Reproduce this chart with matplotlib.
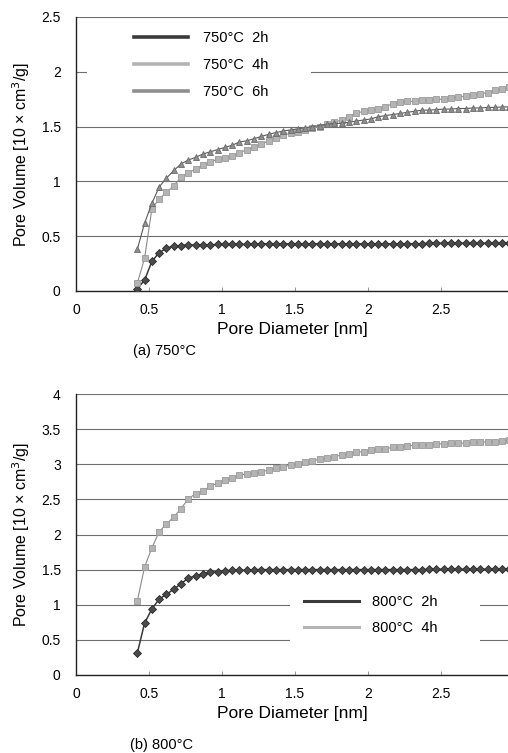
import matplotlib
matplotlib.use("Agg")
import matplotlib.pyplot as plt
from matplotlib.lines import Line2D
from matplotlib.patches import Rectangle

plt.rcParams['font.family'] = ['Liberation Sans', 'DejaVu Sans']

# Pore diameter grid [nm]
diameter = [0.42, 0.47, 0.52, 0.57, 0.62, 0.67, 0.72, 0.77, 0.82, 0.87,
            0.92, 0.97, 1.02, 1.07, 1.12, 1.17, 1.22, 1.27, 1.32, 1.37,
            1.42, 1.47, 1.52, 1.57, 1.62, 1.67, 1.72, 1.77, 1.82, 1.87,
            1.92, 1.97, 2.02, 2.07, 2.12, 2.17, 2.22, 2.27, 2.32, 2.37,
            2.42, 2.47, 2.52, 2.57, 2.62, 2.67, 2.72, 2.77, 2.82, 2.87,
            2.92, 2.97]

# (a) 750 degC cumulative pore volume [10 x cm3/g]
v750_2h = [0.02, 0.10, 0.27, 0.35, 0.39, 0.41, 0.415, 0.42, 0.42, 0.42,
           0.42, 0.425, 0.425, 0.425, 0.425, 0.425, 0.43, 0.43, 0.43, 0.43,
           0.43, 0.43, 0.43, 0.43, 0.43, 0.43, 0.43, 0.43, 0.43, 0.43,
           0.43, 0.43, 0.43, 0.43, 0.43, 0.43, 0.43, 0.43, 0.43, 0.43,
           0.435, 0.435, 0.435, 0.435, 0.435, 0.435, 0.435, 0.435, 0.435, 0.435,
           0.435, 0.435]
v750_4h = [0.07, 0.30, 0.75, 0.84, 0.90, 0.96, 1.04, 1.08, 1.11, 1.15,
           1.18, 1.20, 1.21, 1.23, 1.26, 1.29, 1.31, 1.34, 1.37, 1.40,
           1.42, 1.44, 1.45, 1.47, 1.49, 1.50, 1.52, 1.54, 1.56, 1.59,
           1.62, 1.64, 1.65, 1.66, 1.68, 1.71, 1.72, 1.73, 1.73, 1.74,
           1.74, 1.75, 1.75, 1.76, 1.77, 1.78, 1.79, 1.80, 1.81, 1.83,
           1.84, 1.86]
v750_6h = [0.38, 0.62, 0.80, 0.95, 1.03, 1.10, 1.16, 1.195, 1.22, 1.25,
           1.27, 1.29, 1.31, 1.33, 1.36, 1.37, 1.39, 1.41, 1.43, 1.445,
           1.46, 1.47, 1.48, 1.49, 1.50, 1.51, 1.52, 1.53, 1.53, 1.54,
           1.55, 1.56, 1.57, 1.59, 1.60, 1.61, 1.62, 1.63, 1.64, 1.65,
           1.65, 1.655, 1.66, 1.66, 1.665, 1.665, 1.67, 1.67, 1.675, 1.675,
           1.68, 1.68]

# (b) 800 degC cumulative pore volume [10 x cm3/g]
v800_2h = [0.31, 0.74, 0.94, 1.08, 1.15, 1.22, 1.30, 1.38, 1.41, 1.44,
           1.46, 1.47, 1.48, 1.49, 1.49, 1.49, 1.50, 1.50, 1.50, 1.50,
           1.50, 1.50, 1.50, 1.50, 1.50, 1.50, 1.50, 1.50, 1.50, 1.50,
           1.50, 1.50, 1.50, 1.50, 1.50, 1.50, 1.50, 1.50, 1.50, 1.50,
           1.505, 1.505, 1.505, 1.505, 1.505, 1.505, 1.505, 1.505, 1.505, 1.505,
           1.505, 1.505]
v800_4h = [1.05, 1.54, 1.81, 2.04, 2.15, 2.25, 2.37, 2.51, 2.58, 2.62,
           2.69, 2.73, 2.77, 2.80, 2.85, 2.86, 2.87, 2.89, 2.92, 2.94,
           2.96, 2.99, 3.01, 3.03, 3.05, 3.07, 3.09, 3.11, 3.13, 3.15,
           3.17, 3.18, 3.20, 3.21, 3.22, 3.24, 3.25, 3.26, 3.27, 3.28,
           3.28, 3.29, 3.29, 3.30, 3.30, 3.30, 3.31, 3.31, 3.32, 3.32,
           3.33, 3.34]

x_ticks = [0, 0.5, 1, 1.5, 2, 2.5]
x_ticklabels = ["0", "0.5", "1", "1.5", "2", "2.5"]
y_ticks_a = [0, 0.5, 1, 1.5, 2, 2.5]
y_ticklabels_a = ["0", "0.5", "1", "1.5", "2", "2.5"]
y_ticks_b = [0, 0.5, 1, 1.5, 2, 2.5, 3, 3.5, 4]
y_ticklabels_b = ["0", "0.5", "1", "1.5", "2", "2.5", "3", "3.5", "4"]

labels_a = ["750\u00b0C  2h", "750\u00b0C  4h", "750\u00b0C  6h"]
labels_b = ["800\u00b0C  2h", "800\u00b0C  4h"]

C_2H = "#3a3a3a"
C_4H = "#b4b4b4"
C_6H = "#8e8e8e"

style_2h = dict(color=C_2H, lw=1.1, marker="D", ms=4.2, mfc="#4a4a4a",
                mec="#2a2a2a", mew=0.6)
style_4h = dict(color="#8a8a8a", lw=0.8, marker="s", ms=4.2, mfc=C_4H,
                mec="#9a9a9a", mew=0.6)
style_6h = dict(color="#5a5a5a", lw=0.8, marker="^", ms=5.0, mfc=C_6H,
                mec="#6a6a6a", mew=0.6)

fig = plt.figure(figsize=(5.08, 7.53), dpi=100)
ax_a = fig.add_axes([76 / 508, 1 - 291 / 753, 432 / 508, 274 / 753])
ax_b = fig.add_axes([76 / 508, 1 - 675 / 753, 432 / 508, 281 / 753])


def style_axes(ax, yticks, yticklabels, ymax):
    ax.set_xlim(0, 2.96)
    ax.set_ylim(0, ymax)
    ax.set_xticks(x_ticks)
    ax.set_xticklabels(x_ticklabels)
    ax.set_yticks(yticks)
    ax.set_yticklabels(yticklabels)
    ax.set_axisbelow(True)
    ax.yaxis.grid(True, color="#6e6e6e", lw=0.8)
    ax.xaxis.grid(False)
    for side in ("top", "right"):
        ax.spines[side].set_visible(False)
    for side in ("left", "bottom"):
        ax.spines[side].set_color("#222222")
        ax.spines[side].set_linewidth(1.0)
    ax.tick_params(axis="x", direction="in", length=3, width=0.6,
                   color="#888888", labelsize=10, pad=9, top=False)
    ax.tick_params(axis="y", length=0, labelsize=10, pad=11)
    ax.set_xlabel("Pore Diameter [nm]", fontsize=12.5, labelpad=3)
    ax.set_ylabel("Pore Volume [10 \u00d7 cm$^3$/g]", fontsize=11.5,
                  labelpad=7)


# (a) 750 degC
style_axes(ax_a, y_ticks_a, y_ticklabels_a, 2.5)
ax_a.plot(diameter, v750_2h, **style_2h, zorder=3)
ax_a.plot(diameter, v750_4h, **style_4h, zorder=3)
ax_a.plot(diameter, v750_6h, **style_6h, zorder=4)
ax_a.add_patch(Rectangle((0.025, 0.68), 0.52, 0.29, transform=ax_a.transAxes,
                         facecolor="white", edgecolor="none", zorder=1))
handles_a = [Line2D([], [], color=C_2H, lw=2.6),
             Line2D([], [], color=C_4H, lw=2.6),
             Line2D([], [], color=C_6H, lw=2.6)]
ax_a.legend(handles_a, labels_a, loc="upper left",
            bbox_to_anchor=(0.105, 0.997), frameon=False, fontsize=10.5,
            handlelength=3.7, handletextpad=1.0, labelspacing=0.9)

# (b) 800 degC
style_axes(ax_b, y_ticks_b, y_ticklabels_b, 4)
ax_b.plot(diameter, v800_2h, **style_2h, zorder=3)
ax_b.plot(diameter, v800_4h, **style_4h, zorder=3)
ax_b.add_patch(Rectangle((0.495, 0.1), 0.44, 0.2, transform=ax_b.transAxes,
                         facecolor="white", edgecolor="none", zorder=1))
handles_b = [Line2D([], [], color=C_2H, lw=2.2),
             Line2D([], [], color=C_4H, lw=2.2)]
ax_b.legend(handles_b, labels_b, loc="upper left",
            bbox_to_anchor=(0.497, 0.33), frameon=False, fontsize=10.5,
            handlelength=3.8, handletextpad=0.9, labelspacing=0.8)

fig.text(133 / 508, 1 - 351 / 753, "(a) 750\u00b0C", fontsize=10.5,
         va="center", ha="left")
fig.text(130 / 508, 1 - 745 / 753, "(b) 800\u00b0C", fontsize=10.5,
         va="center", ha="left")

fig.savefig("out.png", dpi=100)
